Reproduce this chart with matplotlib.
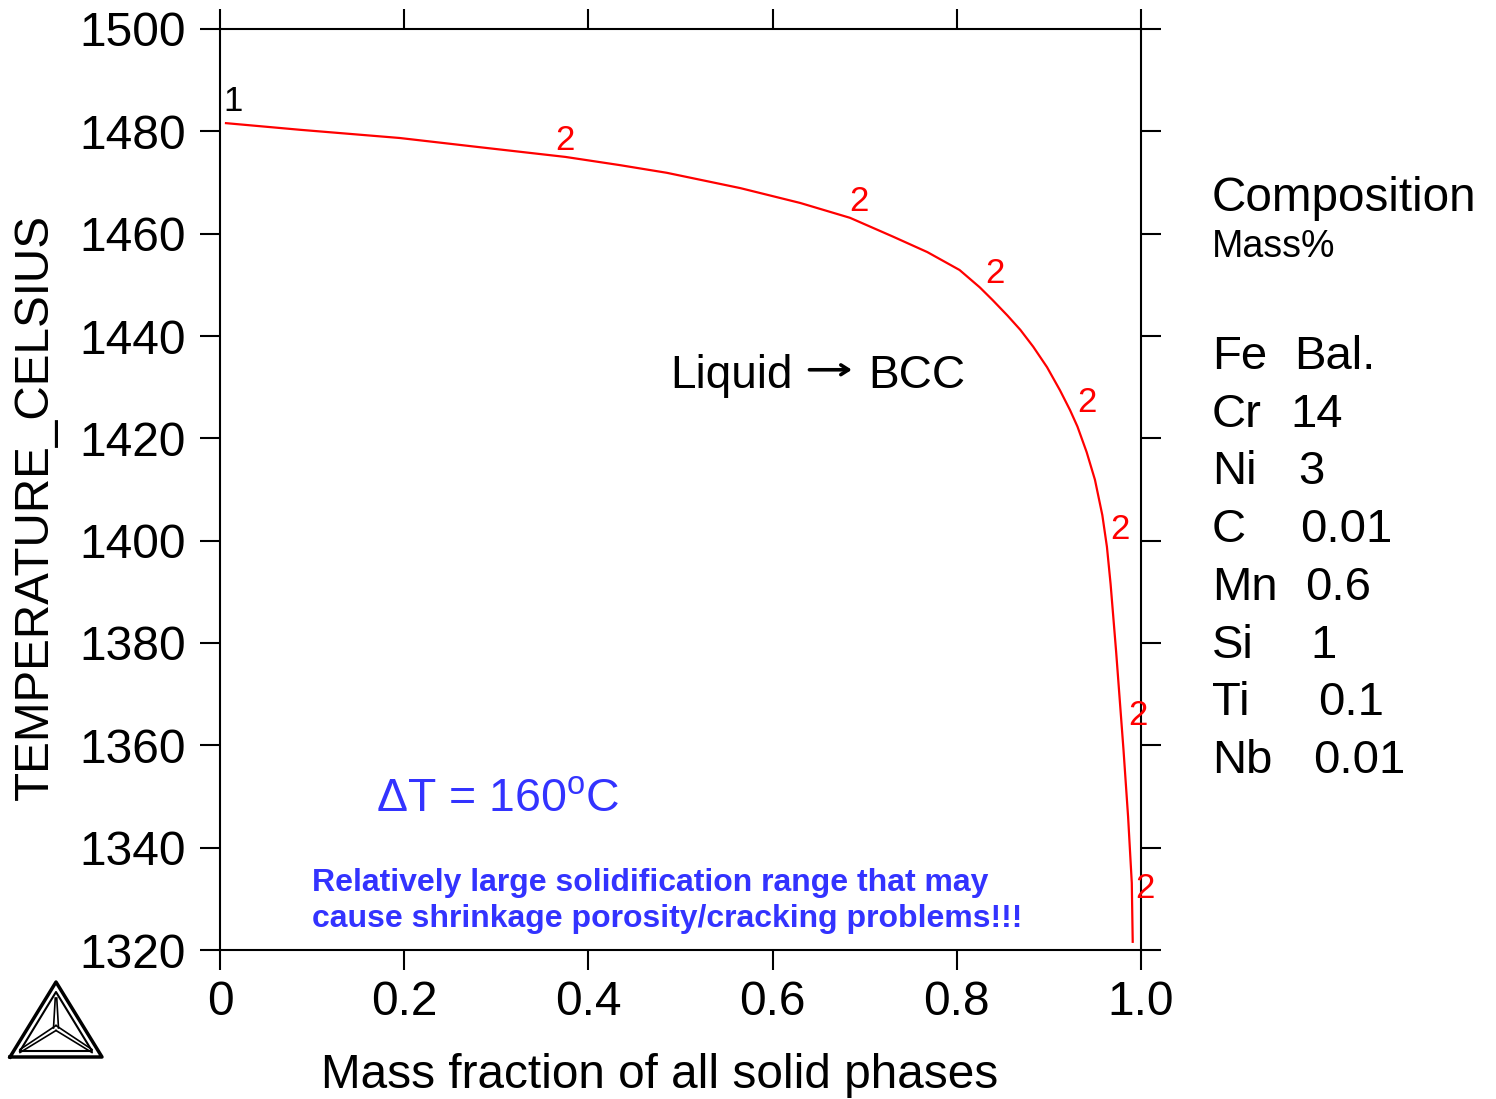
import matplotlib
matplotlib.use("Agg")
import matplotlib.pyplot as plt
from matplotlib.lines import Line2D

plt.rcParams["font.family"] = ["Liberation Sans", "DejaVu Sans"]
plt.rcParams["mathtext.fontset"] = "custom"
plt.rcParams["mathtext.rm"] = "Liberation Sans"

# solidification curve (Scheil)
frac_solid = [0.0065, 0.087, 0.195, 0.282, 0.375, 0.434, 0.485, 0.565, 0.630,
              0.684, 0.731, 0.768, 0.803, 0.825, 0.839, 0.855, 0.869, 0.883,
              0.898, 0.912, 0.923, 0.931, 0.941, 0.950, 0.958, 0.963, 0.967,
              0.973, 0.978, 0.981, 0.986, 0.990, 0.991]
temp_c = [1481.6, 1480.3, 1478.7, 1476.9, 1475.0, 1473.4, 1471.9, 1468.9, 1466.0,
          1463.1, 1459.4, 1456.4, 1452.9, 1449.5, 1447.0, 1444.0, 1441.2, 1437.9,
          1433.9, 1429.4, 1425.5, 1422.3, 1417.3, 1411.9, 1405.0, 1398.8, 1391.5,
          1378.3, 1366.3, 1359.1, 1346.0, 1333.1, 1321.6]

# "2" curve labels
label2_x = [0.375, 0.694, 0.841, 0.941, 0.977, 0.997, 1.004]
label2_y = [1478.3, 1466.2, 1452.3, 1427.1, 1402.1, 1365.9, 1332.1]

x_ticks = [0, 0.2, 0.4, 0.6, 0.8, 1.0]
x_tick_labels = ["0", "0.2", "0.4", "0.6", "0.8", "1.0"]
y_ticks = list(range(1320, 1501, 20))

elements = ["Fe", "Cr", "Ni", "C", "Mn", "Si", "Ti", "Nb"]
amounts = ["Bal.", "14", "3", "0.01", "0.6", "1", "0.1", "0.01"]
amount_px = [1294, 1290, 1298, 1300, 1305, 1310, 1318, 1313]

W, H = 1496, 1099
fig = plt.figure(figsize=(W / 100, H / 100), dpi=100)
ax = fig.add_axes([220 / W, 1 - 950 / H, 921 / W, 921 / H])

ax.plot(frac_solid, temp_c, color="red", lw=1.6, solid_joinstyle="round")
for lx, ly in zip(label2_x, label2_y):
    ax.text(lx, ly, "2", color="red", fontsize=25, ha="center", va="center")
ax.text(0.014, 1485.9, "1", color="black", fontsize=25, ha="center", va="center")

ax.set_xlim(0, 1.0)
ax.set_ylim(1320, 1500)
ax.set_xticks(x_ticks)
ax.set_xticklabels(x_tick_labels)
ax.set_yticks(y_ticks)
ax.tick_params(axis="both", direction="out", length=14.4, width=1.5, labelsize=34.5,
               top=True, right=True)
ax.tick_params(axis="x", pad=7)
ax.tick_params(axis="y", pad=10)
for s in ax.spines.values():
    s.set_linewidth(1.5)

fig.text(660 / W, 1 - 1088 / H, "Mass fraction of all solid phases", fontsize=34.4,
         ha="center", va="baseline")
fig.text(35 / W, 1 - 507 / H, "TEMPERATURE_CELSIUS", fontsize=34.3, rotation=90,
         ha="center", va="center")

ax.text(0.622, 1429.8, "Liquid", fontsize=33, ha="right", va="baseline")
ax.annotate("", xy=(0.686, 1433.4), xytext=(0.640, 1433.4),
            arrowprops=dict(arrowstyle="->,head_length=0.55,head_width=0.35",
                            lw=2.6, color="black", shrinkA=0, shrinkB=0))
ax.text(0.7036, 1429.8, "BCC", fontsize=33, ha="left", va="baseline")

ax.text(0.169, 1347.0, r"$\Delta$T = 160$^{\mathrm{o}}$C", color="#3333ff",
        fontsize=33.5, ha="left", va="baseline")
ax.text(0.1, 1331.6, "Relatively large solidification range that may",
        color="#3333ff", fontsize=23, fontweight="bold", ha="left", va="baseline")
ax.text(0.1, 1324.4, "cause shrinkage porosity/cracking problems!!!",
        color="#3333ff", fontsize=23, fontweight="bold", ha="left", va="baseline")

# composition panel
fig.text(1212 / W, 1 - 211 / H, "Composition", fontsize=34.3, va="baseline", ha="left")
fig.text(1212 / W, 1 - 257 / H, "Mass%", fontsize=27, va="baseline", ha="left")
for i, (el, am) in enumerate(zip(elements, amounts)):
    yy = 1 - (369 + i * 57.7) / H
    fig.text(1212 / W, yy, el, fontsize=34, va="baseline", ha="left")
    fig.text(amount_px[i] / W, yy, am, fontsize=34, va="baseline", ha="left")

# Thermo-Calc style logo
lg = fig.add_axes([0, 0, 1, 1], facecolor="none")
lg.set_xlim(0, W)
lg.set_ylim(H, 0)
lg.axis("off")
outer = [(10, 1057), (102, 1057), (56, 982), (10, 1057)]
inner = [(20, 1051), (92, 1051), (56, 992), (20, 1051)]
lg.add_line(Line2D([p[0] for p in outer], [p[1] for p in outer], color="black", lw=2.5))
lg.add_line(Line2D([p[0] for p in inner], [p[1] for p in inner], color="black", lw=1.5))
cx, cy = 56, 1028
for vx, vy in [(20, 1051), (92, 1051), (56, 992)]:
    for off in (-2.5, 2.5):
        if vx == 56:
            lg.add_line(Line2D([cx + off, vx + off * 0.3], [cy, vy + 6], color="black", lw=1.2))
        else:
            lg.add_line(Line2D([cx, vx], [cy + off, vy + off * 0.6], color="black", lw=1.2))

fig.savefig("out.png", dpi=100)
